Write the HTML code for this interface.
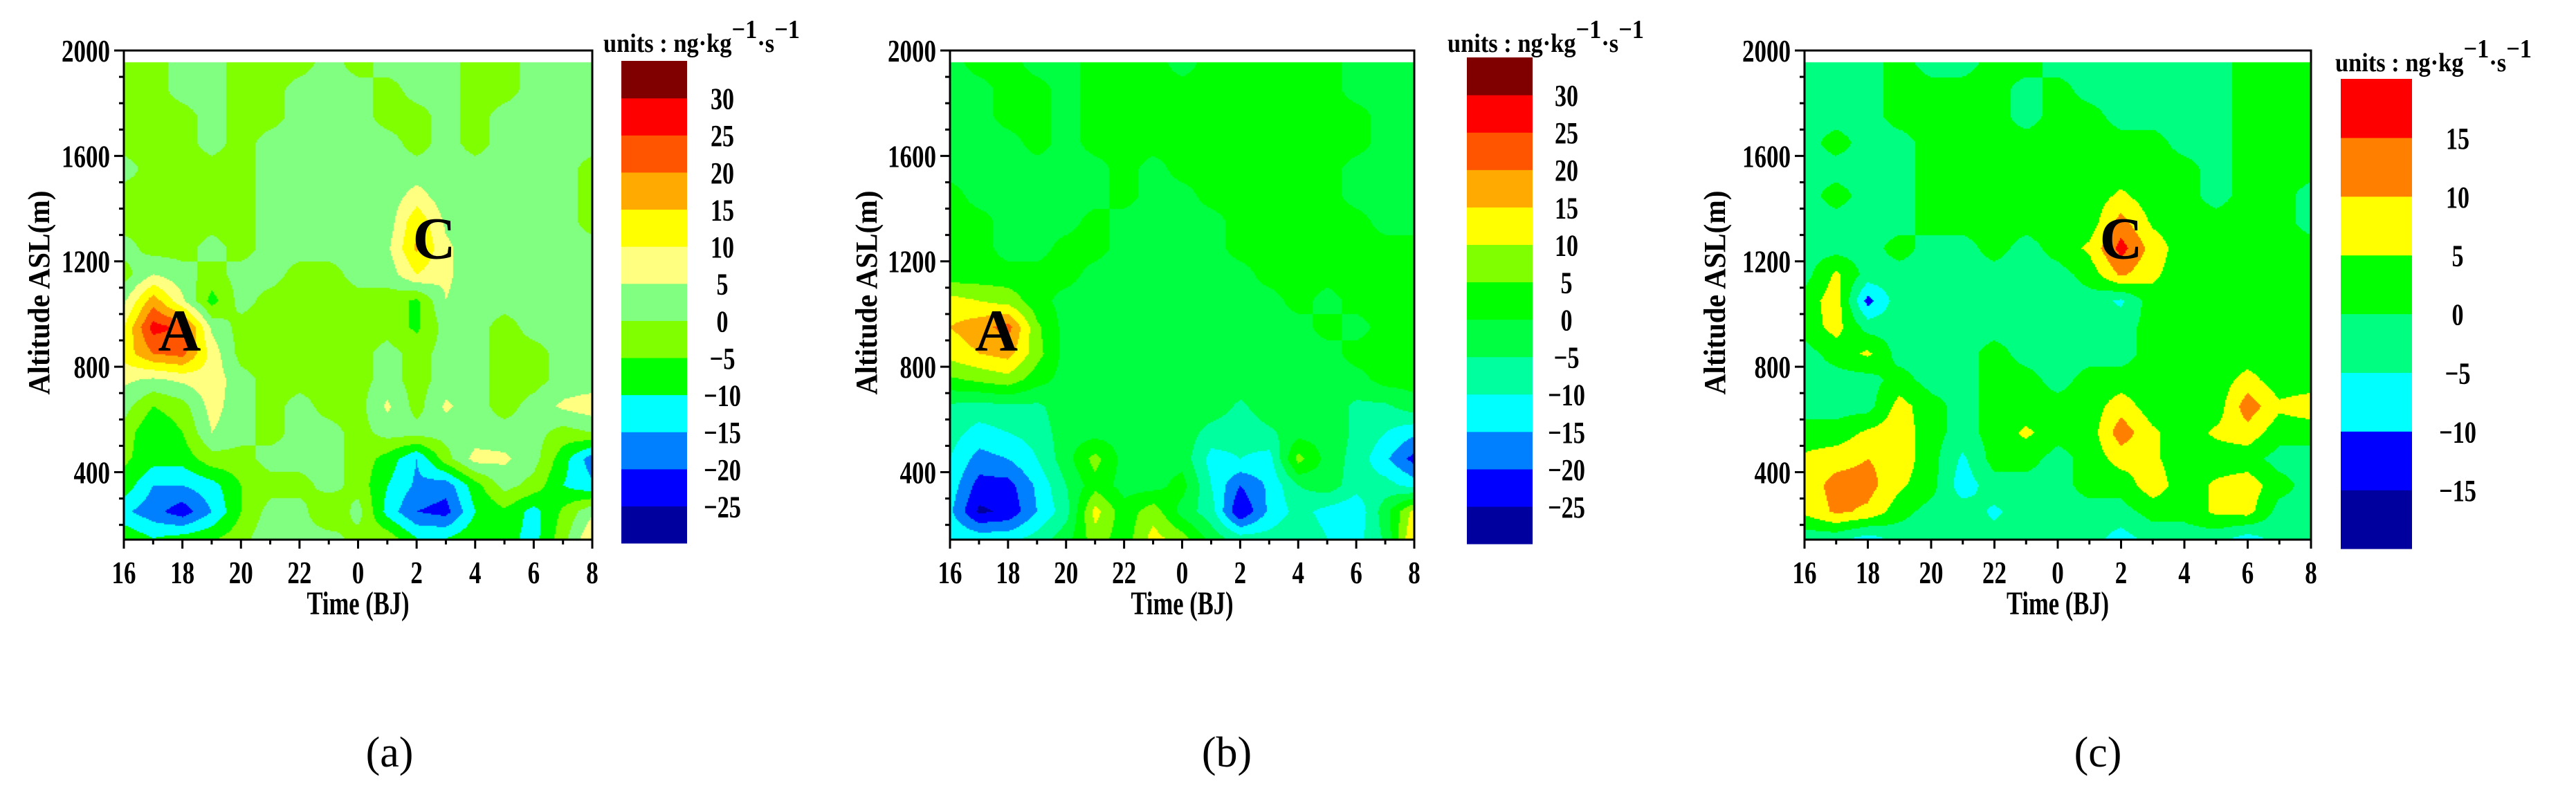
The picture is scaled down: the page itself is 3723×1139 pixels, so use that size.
<!DOCTYPE html>
<html><head><meta charset="utf-8">
<style>
html,body{margin:0;padding:0;background:#fff;}
#wrap{position:relative;width:3723px;height:1139px;overflow:hidden;background:#fff;}
canvas,svg{position:absolute;left:0;top:0;}
</style></head>
<body>
<div id="wrap">
<canvas id="cv" width="3723" height="1139"></canvas>
<svg id="sv" width="3723" height="1139" xmlns="http://www.w3.org/2000/svg"></svg>
</div>
<script>
// ---------- data ----------
const hours = [16,17,18,19,20,21,22,23,24,25,26,27,28,29,30,31,32];
const altitudes = [1950,1850,1750,1650,1550,1450,1350,1250,1150,1050,950,850,750,650,550,450,350,250,150];
const xTickLabels = ["16","18","20","22","0","2","4","6","8"];
const yTickLabels = ["400","800","1200","1600","2000"];
const levelsAB = [-25,-20,-15,-10,-5,0,5,10,15,20,25,30];
const levelsC = [-15,-10,-5,0,5,10,15];
const fieldA = [
[-2,-2,2,2,-2,-2,-2,2,-2,2,2,2,-2,-2,2,2,2],
[-2,-2,2,2,-2,-2,2,2,2,-2,2,2,-2,-2,2,2,2],
[-2,-2,-2,2,-2,-2,2,2,2,-2,-2,2,-2,2,2,2,2],
[-2,-2,-2,2,-2,2,2,2,2,2,-2,2,-2,2,2,2,2],
[2,-2,-2,-2,-2,2,2,2,2,2,2,2,2,2,2,2,-2],
[-2,-2,-2,-2,-2,2,2,2,2,2,7,2,2,2,2,2,-2],
[-2,-2,-2,-2,-2,2,2,2,2,2,14,4,2,2,2,2,-2],
[2,-2,-2,2,-2,2,2,2,2,4,16,6,2,2,2,2,2],
[-2,5,2,-2,2,2,-2,-2,2,2,10,6,2,2,2,2,2],
[4,18,6,-7,2,-2,-2,-2,-2,-2,-6,5,2,2,2,2,2],
[10,27,24,4,-2,-2,-2,-2,-2,-2,-6,2,2,-2,2,2,2],
[12,20,22,8,-2,-2,-2,-2,-2,2,-2,2,2,-2,-2,2,2],
[6,4,6,8,2,-2,-2,-2,-2,2,-2,2,2,-2,-2,2,2],
[2,-5,-2,7,2,-2,2,-2,-2,6,-2,6,2,-2,2,6,8],
[-2,-10,-5,5,2,-2,2,2,-2,2,2,2,2,2,2,-2,0],
[-4,-8,-8,-2,-2,2,2,2,-2,-7,-15,-2,7,6,2,-8,-18],
[-7,-15,-15,-12,-5,-2,-2,2,-2,-10,-16,-18,-7,2,-2,-10,-14],
[-14,-18,-23,-15,-5,2,2,-5,2,-12,-20,-22,-10,-6,-12,-4,4],
[-6,-10,-8,-6,-2,4,2,2,-2,-2,-10,-10,-6,-8,-12,-2,10]];
const fieldB = [
[-2,2,2,-2,-2,2,2,2,-2,2,2,2,2,2,-2,-2,-2],
[-2,-2,2,2,-2,2,2,2,2,2,2,2,2,2,-2,-2,-2],
[-2,-2,2,2,-2,2,2,2,2,2,2,2,2,2,2,-2,-2],
[-2,-2,-2,2,-2,2,2,2,2,2,2,2,2,2,2,-2,-2],
[-2,-2,-2,-2,-2,-2,2,-2,2,2,2,2,2,2,-2,-2,-2],
[2,-2,-2,-2,-2,-2,2,-2,-2,2,2,2,2,2,-2,-2,-2],
[2,2,-2,-2,-2,2,-2,-2,-2,-2,2,2,2,2,2,-2,-2],
[2,2,-2,-2,2,2,-2,-2,-2,-2,2,2,2,2,2,2,2],
[2,2,2,2,2,-2,-2,-2,-2,-2,-2,2,2,2,2,2,2],
[12,10,8,2,-2,-2,-2,-2,-2,-2,-2,-2,2,-2,2,2,2],
[15,18,22,6,-2,-2,-2,-2,-2,-2,-2,-2,-2,2,-2,2,2],
[12,15,17,7,-2,-2,-2,-2,-2,-2,-2,-2,-2,-2,2,2,2],
[4,6,8,2,-2,-2,-2,-2,-2,-2,-2,-2,-2,-2,-2,2,2],
[-6,-7,-6,-6,-2,-2,-2,-2,-2,-2,-6,-2,-2,-2,-6,-6,-2],
[-8,-12,-10,-8,-2,-2,-2,-2,-2,-7,-8,-6,-2,-2,-6,-10,-14],
[-10,-17,-15,-10,-2,7,-2,-2,-2,-12,-10,-12,7,-2,-7,-14,-22],
[-12,-22,-22,-14,-5,3,-2,-2,2,-10,-20,-14,-5,-2,-8,-8,-12],
[-14,-26,-24,-15,-7,12,2,8,-2,-8,-25,-14,-8,-12,-14,-2,12],
[-10,-12,-12,-8,-2,8,2,12,7,-2,-8,-8,-6,-10,-12,-4,16]];
const fieldC = [
[-2,-2,-2,2,-2,-2,2,2,-2,-2,-2,-2,-2,-2,2,2,2],
[-2,-2,-2,2,2,2,2,-2,2,-2,-2,-2,-2,-2,2,2,2],
[-2,-2,-2,2,2,2,2,-2,2,2,-2,-2,-2,-2,2,2,2],
[-2,2,-2,-2,2,2,2,2,2,2,2,2,-2,-2,2,2,2],
[-2,-2,-2,-2,2,2,2,2,2,2,2,2,2,-2,2,2,2],
[-2,2,-2,-2,2,2,2,2,2,2,6,2,2,-2,2,2,-2],
[-2,-2,-2,-2,2,2,2,2,2,2,12,4,2,2,2,2,-2],
[-2,-2,-2,2,-2,-2,2,-2,2,6,17,8,2,2,2,2,2],
[-2,6,-2,-2,-2,-2,-2,-2,-2,2,11,6,2,2,2,2,2],
[2,8,-12,-2,-2,-2,-2,-2,-2,-2,-6,3,2,2,2,2,2],
[2,7,-2,-2,-2,-2,-2,-2,-2,-2,-2,2,2,2,2,2,2],
[-2,2,6,-2,-2,-2,2,-2,-2,-2,-2,2,2,2,2,2,2],
[-2,-2,-2,2,-2,-2,2,2,-2,2,2,2,2,2,7,2,2],
[-2,-2,-2,7,2,-2,2,2,2,2,8,2,2,2,13,6,8],
[2,2,6,8,2,-2,2,6,2,2,13,6,2,6,8,2,2],
[6,8,10,8,2,-6,2,2,-2,2,7,6,2,2,2,-2,-2],
[7,12,12,6,2,-8,-2,-2,-2,2,2,8,2,6,8,2,-2],
[6,11,9,2,-2,-2,-6,-2,-2,-2,-2,2,2,6,7,-2,-2],
[-3,-3,-7,-3,-3,-3,-3,-3,-3,-3,-7,-3,-3,-3,-7,-3,-3]];
const colorsA = ["#00009F","#0000FF","#0080FF","#00FFFF","#00FF00","#80FF00","#80FF80","#FFFF80","#FFFF00","#FFAA00","#FF5500","#FF0000","#800000"];
const colorsB = ["#00009F","#0000FF","#0080FF","#00FFFF","#00FF9F","#00FF40","#00FF00","#80FF00","#FFFF00","#FFAA00","#FF5500","#FF0000","#800000"];
const colorsC = ["#00009F","#0000FF","#00FFFF","#00FF80","#00FF00","#FFFF00","#FF8000","#FF0000"];

// ---------- layout ----------
const panels = [
 {id:"a", field:fieldA, levels:levelsAB, colors:colorsA, x0:179, x1:856, cb:[898,993,88,785], cbLab:1044, unitX:872, unitY:75, yTitleX:56, letter:{t:"A",hour:17.9,alt:940}, letter2:{t:"C",hour:26.6,alt:1290}, sub:563},
 {id:"b", field:fieldB, levels:levelsAB, colors:colorsB, x0:1373, x1:2044, cb:[2120,2215,83,786], cbLab:2264, unitX:2092, unitY:75, yTitleX:1252, letter:{t:"A",hour:17.6,alt:940}, sub:1773},
 {id:"c", field:fieldC, levels:levelsC, colors:colorsC, x0:2608, x1:3340, cb:[3383,3486,114,793], cbLab:3552, unitX:3375, unitY:103, yTitleX:2478, letter:{t:"C",hour:26.0,alt:1290}, sub:3032}
];
const Y0 = 73, Y1 = 780, AMAX = 2000, AMIN = 144;
function yScale(a){ return Y0 + (AMAX - a) / (AMAX - AMIN) * (Y1 - Y0); }
function yInv(y){ return AMAX - (y - Y0) / (Y1 - Y0) * (AMAX - AMIN); }

const cv = document.getElementById('cv'), ctx = cv.getContext('2d');
const NS = "http://www.w3.org/2000/svg", sv = document.getElementById('sv');
function mk(tag, attrs, parent){ const e = document.createElementNS(NS, tag); for (const k in attrs) e.setAttribute(k, attrs[k]); (parent||sv).appendChild(e); return e; }
function txt(s, x, y, size, anchor, w, parent){
  const t = mk('text', {x:x, y:y, 'font-size':size, 'font-family':'"Liberation Serif", serif', 'font-weight':'bold', 'text-anchor':anchor||'middle', fill:'#000'}, parent);
  if (w){ t.setAttribute('textLength', w); t.setAttribute('lengthAdjust','spacingAndGlyphs'); }
  t.textContent = s; return t;
}
function sample(field, h, a){
  let ti = Math.max(0, Math.min(hours.length-1.0001, h - hours[0]));
  let ai = Math.max(0, Math.min(altitudes.length-1.0001, (altitudes[0]-a)/(altitudes[0]-altitudes[1])));
  const i = Math.floor(ti), j = Math.floor(ai), fx = ti - i, fy = ai - j;
  const v00 = field[j][i], v10 = field[j][i+1], v01 = field[j+1][i], v11 = field[j+1][i+1];
  return (v00*(1-fx)+v10*fx)*(1-fy) + (v01*(1-fx)+v11*fx)*fy;
}
function binOf(levels, v){ let k = 0; while (k < levels.length && v >= levels[k]) k++; return k; }

panels.forEach(p => {
  const xS = h => p.x0 + (h - hours[0]) / (hours[hours.length-1] - hours[0]) * (p.x1 - p.x0);
  const hInv = x => hours[0] + (x - p.x0) / (p.x1 - p.x0) * (hours[hours.length-1] - hours[0]);
  const g = mk('g', {});
  
  
  const top = Math.round(yScale(1955)), step = 2;
  for (let y = top; y < Y1; y += step){
    const a = yInv(y + step/2);
    for (let x = p.x0; x < p.x1; x += step){
      const v = sample(p.field, hInv(x + step/2), a);
      ctx.fillStyle = p.colors[binOf(p.levels, v)];
      ctx.fillRect(x, y, step, step);
    }
  }
  const fr = mk('rect', {x:p.x0, y:Y0, width:p.x1-p.x0, height:Y1-Y0, fill:'none', stroke:'#000', 'stroke-width':3}, g);
  
  
  for (let a = 200; a <= 2000; a += 100){
    const y = yScale(a), major = (a % 400 === 0);
    mk('line', {x1:p.x0 - (major?14:7), x2:p.x0, y1:y, y2:y, stroke:'#000', 'stroke-width':3}, g);
  }
  yTickLabels.forEach(s => {
    const t = txt(s, p.x0 - 20, yScale(+s) + 16, 46, 'end', s.length*17.5, g);
    
    
  });
  hours.forEach((h, i) => {
    const x = xS(h), major = (i % 2 === 0);
    mk('line', {x1:x, x2:x, y1:Y1, y2:Y1 + (major?13:7), stroke:'#000', 'stroke-width':3}, g);
  });
  xTickLabels.forEach((s, i) => {
    const t = txt(s, xS(hours[0] + 2*i), 843, 46, 'middle', s.length*17.5, g);
    
    
  });
  const xt = txt('Time (BJ)', (p.x0+p.x1)/2, 888, 48, 'middle', 148, g);
  
  
  const yt = txt('Altitude ASL(m)', 0, 0, 44, 'middle', 295, g);
  yt.setAttribute('transform', 'translate(' + (p.yTitleX + 15) + ',423) rotate(-90)');
  
  
  [p.letter, p.letter2].forEach(L => {
    if (!L) return;
    const t = txt(L.t, xS(L.hour), yScale(L.alt) + 30, 86, 'middle', null, g);
    
    
  });
  const [cx0, cx1, cy0, cy1] = p.cb, n = p.colors.length, bh = (cy1 - cy0) / n;
  p.colors.forEach((c, k) => {
    const r = mk('rect', {x:cx0, y:cy1 - (k+1)*bh, width:cx1-cx0, height:bh+0.6, fill:c}, g);
    
    
  });
  p.levels.forEach((lv, k) => {
    const s = lv < 0 ? '\u2212' + (-lv) : String(lv);
    const t = txt(s, p.cbLab, cy1 - (k+1)*bh + 16, 44, 'middle', (lv<0?20:0) + String(Math.abs(lv)).length*17, g);
    
    
  });
  const u = mk('text', {x:p.unitX, y:p.unitY, 'font-size':38, 'font-family':'"Liberation Serif", serif', 'font-weight':'bold', fill:'#000'}, g);
  
  
  u.innerHTML = 'units : ng\u00B7kg<tspan dy="-20">\u22121</tspan><tspan dy="20">\u00B7s</tspan><tspan dy="-20">\u22121</tspan>';
  u.setAttribute('textLength', 284);
  u.setAttribute('lengthAdjust', 'spacingAndGlyphs');
  const st = mk('text', {x:p.sub, y:1108, 'font-size':62, 'font-family':'"Liberation Serif", serif', 'text-anchor':'middle', fill:'#000'}, sv);
  st.textContent = '(' + p.id + ')';
  
  
});
</script>
</body></html>
